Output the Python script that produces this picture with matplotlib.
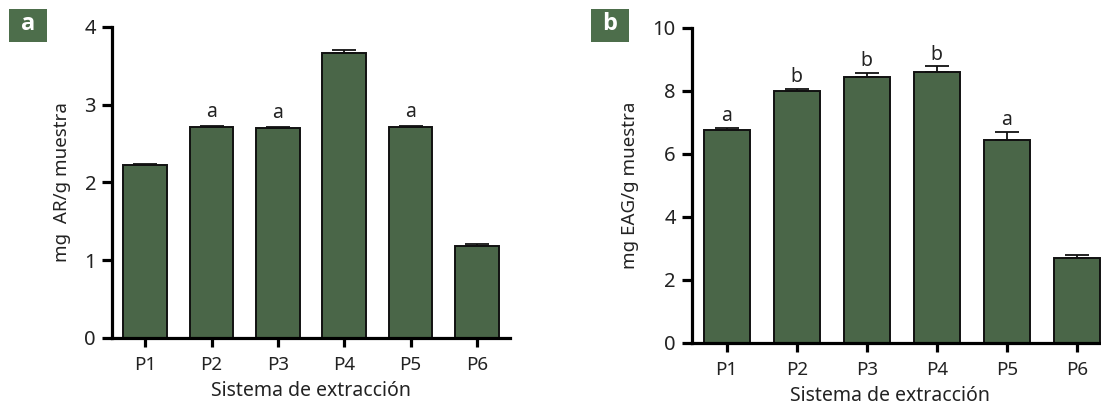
import matplotlib
matplotlib.use("Agg")
import matplotlib.pyplot as plt
from matplotlib.patches import Rectangle
import numpy as np

plt.rcParams['font.family'] = ['Noto Sans', 'DejaVu Sans']

categories = ["P1", "P2", "P3", "P4", "P5", "P6"]
values_a = [2.22, 2.71, 2.70, 3.67, 2.71, 1.18]
errors_a = [0.01, 0.02, 0.015, 0.04, 0.02, 0.02]
letters_a = ["", "a", "a", "", "a", ""]
values_b = [6.75, 7.98, 8.43, 8.58, 6.44, 2.68]
errors_b = [0.07, 0.08, 0.12, 0.19, 0.24, 0.10]
letters_b = ["a", "b", "b", "b", "a", ""]
yticks_a = [0, 1, 2, 3, 4]
yticks_b = [0, 2, 4, 6, 8, 10]

bar_color = "#4a6648"
text_color = "#222222"
W, H = 1101, 405

fig = plt.figure(figsize=(W / 100, H / 100), dpi=100)

def px_axes(left, right, bottom, top):
    return fig.add_axes([left / W, (H - bottom) / H, (right - left) / W, (bottom - top) / H])

def draw(ax, vals, errs, letters, yticks, ylabel, letter_off, xlabel_x):
    x = np.arange(len(categories))
    ax.bar(x, vals, width=0.655, color=bar_color, edgecolor="#111111", linewidth=1.4, zorder=2)
    ax.errorbar(x, vals, yerr=[np.zeros(len(vals)), errs], fmt="none", ecolor="#111111",
                elinewidth=1.3, capsize=8.5, capthick=1.3, zorder=3)
    for xi, v, e, l in zip(x, vals, errs, letters):
        if l:
            ax.text(xi, v + e + letter_off, l, ha="center", va="bottom", fontsize=14,
                    color=text_color)
    ax.set_xlim(-0.5, 5.5)
    ax.set_ylim(0, yticks[-1])
    ax.set_yticks(yticks)
    ax.set_xticks(x)
    ax.set_xticklabels(categories)
    for s in ["top", "right"]:
        ax.spines[s].set_visible(False)
    for s in ["left", "bottom"]:
        ax.spines[s].set_linewidth(2.3)
        ax.spines[s].set_color("black")
    ax.tick_params(axis="y", length=7.5, width=2.3, pad=4, labelsize=14.5, labelcolor=text_color)
    ax.tick_params(axis="x", length=6.5, width=2.3, pad=7, labelsize=13.5, labelcolor=text_color)
    ax.set_xlabel("Sistema de extracción", fontsize=14, color=text_color, labelpad=5)
    ax.xaxis.label.set_x(xlabel_x)
    ax.set_ylabel(ylabel, fontsize=13.5, color=text_color, labelpad=10)

ax_a = px_axes(112, 510, 337.7, 27)
draw(ax_a, values_a, errors_a, letters_a, yticks_a, "mg  AR/g muestra", 0.05, 0.5)
ax_b = px_axes(691.7, 1111.7, 342.7, 27.7)
draw(ax_b, values_b, errors_b, letters_b, yticks_b, "mg EAG/g muestra", 0.06, 0.472)

for (l, t, r, b), lab in [((9, 9, 47, 42), "a"), ((591, 9, 629, 42), "b")]:
    fig.patches.append(Rectangle((l / W, (H - b) / H), (r - l) / W, (b - t) / H,
                                 transform=fig.transFigure, facecolor="#4d6e4b", edgecolor="none"))
    fig.text((l + r) / 2 / W, (H - (t + b) / 2) / H + 0.003, lab, ha="center", va="center",
             color="white", fontsize=17, fontweight="bold", family=["Open Sans", "DejaVu Sans"])

fig.savefig("out.png", dpi=100)
